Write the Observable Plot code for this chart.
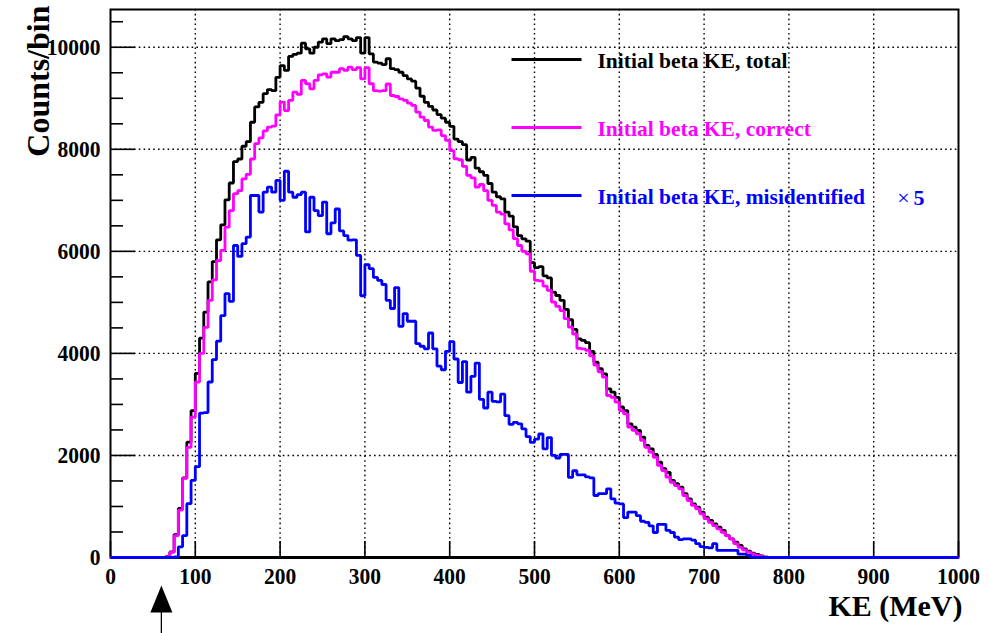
<!DOCTYPE html>
<html><head><meta charset="utf-8">
<script src="https://cdn.jsdelivr.net/npm/d3@7"></script>
<script src="https://cdn.jsdelivr.net/npm/@observablehq/plot@0.6"></script>
<style>
html,body{margin:0;padding:0;background:#fff;}
svg text{font-family:'Liberation Serif','Times New Roman',serif;}
</style>
</head><body><div id="chart"></div>
<script>
// ---- data (5 MeV bins, first listed bin starts at 60 MeV; all other bins are empty) ----
const binWidth = 5;
const firstBin = 60;
const totalCounts = [
  0,15,110,450,960,1560,2260,2880,3610,4300,
  4810,5400,5800,6225,6520,7010,7340,7760,7810,8060,
  8150,8530,8830,8920,9090,9170,9150,9410,9640,9545,
  9820,9860,9885,10080,9970,9885,10000,10100,10165,10070,
  10165,10130,10150,10210,10165,10130,10190,9885,10190,9870,
  9710,9690,9660,9775,9580,9560,9510,9445,9380,9335,
  9200,9040,8920,8840,8770,8680,8610,8530,8450,8200,
  8150,8090,7790,7840,7630,7560,7490,7330,7160,7070,
  7030,6770,6690,6480,6310,6245,6200,5780,5680,5700,
  5520,5480,5200,5135,5040,4860,4660,4470,4285,4255,
  4210,4040,3830,3700,3600,3305,3240,3140,2950,2880,
  2620,2555,2490,2360,2195,2130,2020,1870,1740,1670,
  1510,1445,1380,1250,1150,1050,985,890,790,725,
  660,595,530,430,365,300,235,170,125,85,
  60,33,7,2
];
const correctCounts = [
  0,15,100,430,930,1550,2160,2750,3440,4000,
  4510,5040,5440,5820,6020,6475,6800,7130,7190,7420,
  7510,7810,8110,8225,8360,8435,8455,8675,8925,8760,
  8960,9120,9075,9350,9285,9185,9350,9460,9480,9415,
  9510,9510,9580,9545,9610,9560,9600,9380,9600,9285,
  9150,9140,9150,9280,9055,9035,8990,8960,8905,8860,
  8730,8630,8565,8435,8370,8380,8270,8175,7975,7815,
  7795,7665,7490,7440,7260,7310,7190,7000,6900,6770,
  6730,6540,6420,6250,6115,6000,5950,5610,5430,5420,
  5320,5235,5005,4920,4840,4680,4515,4380,4100,4090,
  4060,3950,3770,3640,3535,3175,3140,3045,2880,2815,
  2555,2490,2425,2295,2160,2065,1965,1805,1705,1575,
  1475,1410,1345,1215,1115,1020,955,855,760,690,
  625,560,495,430,365,270,200,150,105,72,
  40,20,5,0
];
const misidCountsX5 = [
  0,0,0,10,210,430,1055,1510,1780,2830,
  2840,3440,3880,4240,4740,5170,5020,6115,5900,6150,
  6280,7095,7095,6770,7160,7260,7160,7390,7000,7570,
  7160,7060,7110,7160,6380,7060,6800,6700,6965,6345,
  6560,6830,6400,6310,6220,6225,5920,5130,5740,5660,
  5490,5430,5350,5040,4880,5290,4530,4780,4630,4630,
  4190,4140,4090,4400,4090,3750,3680,4040,4230,3890,
  3430,3840,3240,3550,3810,3100,2930,3240,3060,3050,
  3200,2780,2610,2650,2620,2520,2370,2255,2320,2420,
  2130,2350,2000,1950,2020,2020,1570,1700,1620,1620,
  1580,1560,1215,1250,1250,1345,1150,1065,1050,780,
  890,890,820,710,690,620,490,650,650,530,
  490,400,350,365,365,340,270,215,200,190,
  270,140,140,140,140,140,65,65,40,10,
  0,0,0,0
];
const seriesNames = ["Initial beta KE, total", "Initial beta KE, correct", "Initial beta KE, misidentified"];
const seriesValues = [totalCounts, correctCounts, misidCountsX5];
const seriesColors = ["#000000", "#ff00ff", "#0000ff"];
const scaleNote = "5";
const xTicks = [0,100,200,300,400,500,600,700,800,900,1000];
const yTicks = [0,2000,4000,6000,8000,10000];
const yMinorTicks = [500,1000,1500,2500,3000,3500,4500,5000,5500,6500,7000,7500,8500,9000,9500,10500];
const xTitle = "KE (MeV)";
const yTitle = "Counts/bin";
const arrowKE = 60;

// ---- layout ----
const W = 989, H = 633;
const mL = 110, mR = 31, mT = 9, mB = 76;
const plotW = W - mL - mR, plotH = H - mT - mB;
const yMax = 10740;
const perPx = yMax / plotH;          // counts per pixel
const kePerPx = 1000 / plotW;        // MeV per pixel
const baseY = mT + plotH;            // pixel row of y = 0
const pxToKE = px => (px - mL) * kePerPx;
const pxToCount = py => (baseY - py) * perPx;
const serif = "'Liberation Serif', 'Times New Roman', serif";

function histRows(values, name) {
  const rows = [];
  for (let e = 0; e < 1000; e += binWidth) {
    const i = (e - firstBin) / binWidth;
    rows.push({x: e, y: (i >= 0 && i < values.length) ? values[i] : 0, name});
  }
  rows.push({x: 1000, y: rows[rows.length - 1].y, name});
  return rows;
}

const legendX1 = pxToKE(511), legendX2 = pxToKE(581), legendTextX = pxToKE(597);
const legendRowY = [pxToCount(59), pxToCount(127), pxToCount(195)];

const triangleUp = {
  draw(ctx) { ctx.moveTo(0, -13.5); ctx.lineTo(11, 13.5); ctx.lineTo(-11, 13.5); ctx.closePath(); }
};

const marks = [
  Plot.ruleX(xTicks.filter(d => d > 0 && d < 1000), {stroke: "black", strokeWidth: 1.4, strokeDasharray: "1.6,3.2"}),
  Plot.ruleY(yTicks.filter(d => d > 0), {stroke: "black", strokeWidth: 1.4, strokeDasharray: "1.6,3.2"}),
  Plot.frame({stroke: "black", strokeWidth: 2}),
  Plot.ruleY([0], {stroke: "black", strokeWidth: 3}),
  Plot.tickY(yTicks, {y: d => d, insetRight: plotW - 25, stroke: "black", strokeWidth: 1.6}),
  Plot.tickY(yMinorTicks, {y: d => d, insetRight: plotW - 13, stroke: "black", strokeWidth: 1.6}),
  Plot.tickX(xTicks, {x: d => d, insetTop: plotH - 16, stroke: "black", strokeWidth: 1.6}),
  Plot.axisX({ticks: xTicks, tickSize: 0, tickPadding: 10, tickFormat: d3.format("d"), label: null, fontSize: 21.5, fontFamily: serif, fontWeight: "bold"}),
  Plot.axisY({ticks: yTicks, tickSize: 0, tickPadding: 10, tickFormat: d3.format("d"), label: null, fontSize: 21.5, fontFamily: serif, fontWeight: "bold"}),
];
seriesNames.forEach((name, k) => {
  marks.push(Plot.line(histRows(seriesValues[k], name), {
    x: "x", y: "y", curve: "step-after", stroke: seriesColors[k], strokeWidth: 2.8, strokeLinejoin: "miter", strokeLinecap: "butt"
  }));
});
seriesNames.forEach((name, k) => {
  marks.push(Plot.link([name], {x1: () => legendX1, x2: () => legendX2, y1: () => legendRowY[k], y2: () => legendRowY[k], stroke: seriesColors[k], strokeWidth: 2.8}));
  marks.push(Plot.text([name], {x: () => legendTextX, y: () => legendRowY[k], text: d => d, textAnchor: "start", fill: seriesColors[k], fontSize: 21.5, fontFamily: serif, fontWeight: "bold", dy: 2}));
});
marks.push(Plot.text(["\u00d7"], {x: () => pxToKE(903), y: () => legendRowY[2], text: d => d, fill: seriesColors[2], fontSize: 22, fontFamily: serif, fontWeight: "normal", dy: 2}));
marks.push(Plot.text([scaleNote], {x: () => pxToKE(913), y: () => legendRowY[2], text: d => d, textAnchor: "start", fill: seriesColors[2], fontSize: 22, fontFamily: serif, fontWeight: "bold", dy: 2}));
marks.push(Plot.text([xTitle], {frameAnchor: "bottom-right", text: d => d, textAnchor: "end", dx: 4, dy: 58, fontSize: 30, fontFamily: serif, fontWeight: "bold"}));
marks.push(Plot.text([yTitle], {frameAnchor: "top-left", text: d => d, textAnchor: "end", rotate: -90, dx: -84, dy: -4, fontSize: 32, fontFamily: serif, fontWeight: "bold"}));
marks.push(Plot.ruleX([arrowKE], {x: d => d, y1: () => pxToCount(640), y2: () => pxToCount(610), stroke: "black", strokeWidth: 1.3}));
marks.push(Plot.dot([arrowKE], {x: d => d, y: () => pxToCount(598.5), symbol: triangleUp, fill: "black", stroke: "none"}));

const chart = Plot.plot({
  width: W, height: H,
  marginLeft: mL, marginRight: mR, marginTop: mT, marginBottom: mB,
  x: {domain: [0, 1000]},
  y: {domain: [0, yMax]},
  style: {fontFamily: serif, fontWeight: "bold", fontSize: "22px", background: "white", color: "black", overflow: "visible"},
  marks
});

// the reference's tick-label glyphs are a little taller than they are wide: stretch them vertically
d3.select(chart).selectAll("g[aria-label='x-axis tick label'] text, g[aria-label='y-axis tick label'] text").each(function() {
  const t = d3.select(this);
  let tr = t.attr("transform");
  if (!tr) {
    const x = +t.attr("x") || 0, y = +t.attr("y") || 0;
    t.attr("x", null).attr("y", null);
    tr = `translate(${x},${y})`;
  }
  t.attr("transform", tr + " scale(1,1.1)");
});
document.getElementById("chart").appendChild(chart);
</script>
</body></html>
